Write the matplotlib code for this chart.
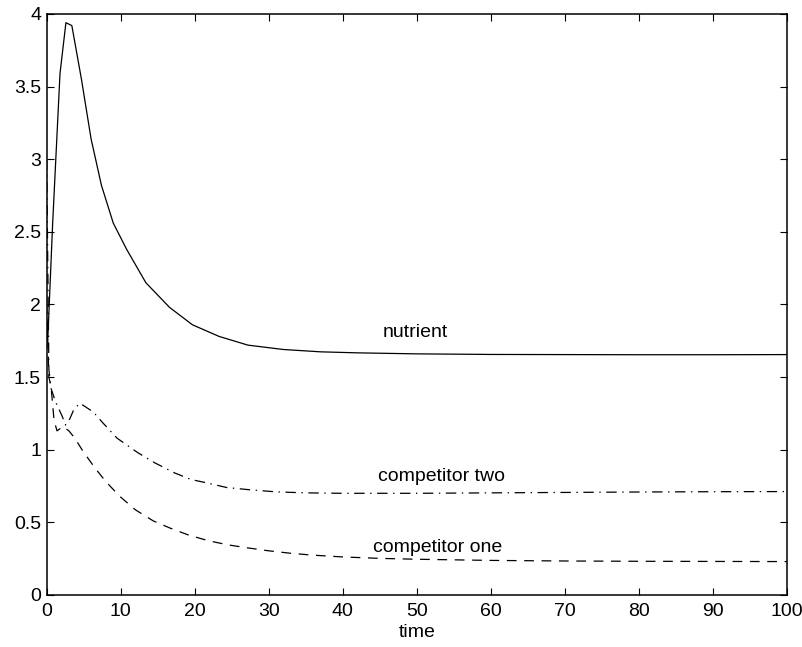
import matplotlib
matplotlib.use("Agg")
import matplotlib.pyplot as plt

# data
t_nut = [0, 0.15, 0.8, 1.8, 2.6, 3.4, 4.7, 6.0, 7.4, 9.0, 10.8, 13.4, 16.6, 19.7,
         23.3, 27.2, 32, 37, 42, 50, 60, 70, 80, 90, 100]
nutrient = [1.9, 1.76, 2.55, 3.59, 3.94, 3.92, 3.55, 3.14, 2.82, 2.56, 2.38, 2.15, 1.98,
            1.86, 1.78, 1.72, 1.69, 1.674, 1.667, 1.66, 1.656, 1.655, 1.654, 1.654, 1.655]

t_two = [0, 0.3, 0.6, 1.2, 2.1, 2.55, 3.1, 3.7, 4.5, 6.3, 7.5, 9.5, 12.3, 14.6, 17.3,
         19.5, 21.8, 24.3, 27.5, 31, 35, 40, 50, 60, 70, 80, 90, 100]
comp_two = [3.0, 1.55, 1.42, 1.33, 1.23, 1.17, 1.21, 1.28, 1.32, 1.26, 1.19, 1.08, 0.98,
            0.91, 0.84, 0.795, 0.77, 0.74, 0.724, 0.71, 0.703, 0.70, 0.70, 0.703, 0.706,
            0.709, 0.711, 0.712]

t_one = [0, 0.3, 0.6, 1.0, 1.4, 2.2, 3.0, 3.8, 4.9, 6.5, 8.0, 9.9, 12.0, 14.4, 16.7,
         19.1, 21.8, 24.5, 27.2, 30, 33, 36, 40, 45, 50, 60, 70, 80, 90, 100]
comp_one = [2.0, 1.5, 1.43, 1.2, 1.13, 1.16, 1.13, 1.08, 0.99, 0.876, 0.78, 0.678, 0.586,
            0.51, 0.46, 0.414, 0.374, 0.345, 0.324, 0.304, 0.287, 0.274, 0.262, 0.252,
            0.246, 0.238, 0.234, 0.232, 0.231, 0.23]

x_ticks = list(range(0, 101, 10))
y_ticks = [0, 0.5, 1, 1.5, 2, 2.5, 3, 3.5, 4]
y_tick_labels = ['0', '0.5', '1', '1.5', '2', '2.5', '3', '3.5', '4']

plt.rcParams['font.family'] = ['Liberation Sans', 'DejaVu Sans']
plt.rcParams['font.size'] = 14
plt.rcParams['lines.scale_dashes'] = False

fig = plt.figure(figsize=(8.02, 6.47), dpi=100)
ax = fig.add_axes([0.0582, 0.0804, 0.9228, 0.8980])

ax.plot(t_nut, nutrient, color='black', lw=0.9, linestyle='-')
ax.plot(t_two, comp_two, color='black', lw=0.9, linestyle=(0, (7.5, 4, 1, 4)))
ax.plot(t_one, comp_one, color='black', lw=0.9, linestyle=(0, (7, 5.5)))

ax.text(45.4, 1.81, 'nutrient', ha='left', va='center')
ax.text(44.8, 0.816, 'competitor two', ha='left', va='center')
ax.text(44.1, 0.326, 'competitor one', ha='left', va='center')

ax.set_xlim(0, 100)
ax.set_ylim(0, 4)
ax.set_xticks(x_ticks)
ax.set_yticks(y_ticks)
ax.set_yticklabels(y_tick_labels)
ax.set_xlabel('time', labelpad=3)
ax.tick_params(direction='in', top=True, right=True, length=5, width=0.8)
ax.tick_params(axis='x', pad=6)
ax.tick_params(axis='y', pad=4)
for s in ax.spines.values():
    s.set_linewidth(1.1)

fig.savefig('out.png', dpi=100)
